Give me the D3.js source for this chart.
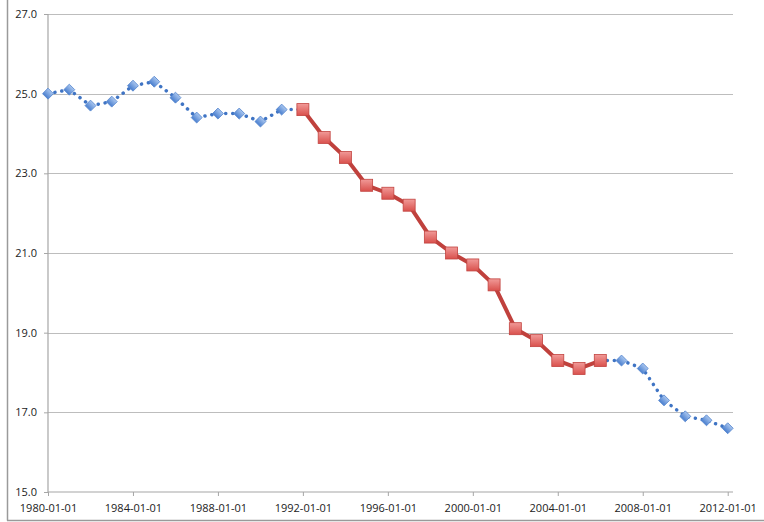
<!DOCTYPE html>
<html>
<head>
<meta charset="utf-8">
<script src="https://cdn.jsdelivr.net/npm/d3@7"></script>
<style>
  body { margin: 0; background: #fff; }
  text { font-family: "Open Sans", "Liberation Sans", sans-serif; font-size: 11px; fill: #222; }
</style>
</head>
<body>
<div id="chart"></div>
<script>
// chart values
let years = d3.range(1980, 2013);
let values = [25.0, 25.1, 24.7, 24.8, 25.2, 25.3, 24.9, 24.4, 24.5, 24.5, 24.3, 24.6, 24.6,
              23.9, 23.4, 22.7, 22.5, 22.2, 21.4, 21.0, 20.7, 20.2, 19.1, 18.8, 18.3, 18.1, 18.3,
              18.3, 18.1, 17.3, 16.9, 16.8, 16.6];
let redStart = 1992, redEnd = 2006;
let yTicks = [15, 17, 19, 21, 23, 25, 27];
let xTickYears = [1980, 1984, 1988, 1992, 1996, 2000, 2004, 2008, 2012];

let svgWidth = 764;
let svgHeight = 522;
let margin = { top: 14, right: 31, bottom: 30, left: 48 };
let width = svgWidth - margin.left - margin.right;
let height = svgHeight - margin.top - margin.bottom;

let data = years.map((y, i) => ({ year: y, date: new Date(y, 0, 1), value: values[i] }));
let blueA = data.filter(d => d.year <= redStart);
let blueB = data.filter(d => d.year >= redEnd);
let red = data.filter(d => d.year >= redStart && d.year <= redEnd);

var svg = d3.select("#chart")
    .append("svg")
    .attr("width", svgWidth)
    .attr("height", svgHeight);

// gradients for markers
var defs = svg.append("defs");
var gb = defs.append("linearGradient").attr("id", "gBlue").attr("x1", 0).attr("y1", 0).attr("x2", 0).attr("y2", 1);
gb.append("stop").attr("offset", "0%").attr("stop-color", "#a9c6ef");
gb.append("stop").attr("offset", "100%").attr("stop-color", "#4a7fcf");
var gr = defs.append("linearGradient").attr("id", "gRed").attr("x1", 0).attr("y1", 0).attr("x2", 0).attr("y2", 1);
gr.append("stop").attr("offset", "0%").attr("stop-color", "#f19a98");
gr.append("stop").attr("offset", "100%").attr("stop-color", "#d9504c");

// outer frame (partly cropped)
svg.append("line").attr("x1", 7.5).attr("x2", 7.5).attr("y1", 0).attr("y2", 520.5)
    .attr("stroke", "#9a9a9a").attr("stroke-width", 1.5);
svg.append("line").attr("x1", 7).attr("x2", svgWidth).attr("y1", 520.5).attr("y2", 520.5)
    .attr("stroke", "#9a9a9a").attr("stroke-width", 1.5);

var chartGroup = svg.append("g")
    .attr("transform", `translate(${margin.left}, ${margin.top})`);

var xScale = d3.scaleTime()
    .domain([new Date(1980, 0, 1), new Date(2012, 3, 1)])
    .range([0, width]);
var yScale = d3.scaleLinear()
    .domain([15, 27])
    .range([height, 0]);

// gridlines
chartGroup.append("g")
    .selectAll("line")
    .data(yTicks.filter(t => t > 15))
    .enter()
    .append("line")
    .attr("x1", 0)
    .attr("x2", width)
    .attr("y1", d => Math.round(yScale(d)) + 0.5)
    .attr("y2", d => Math.round(yScale(d)) + 0.5)
    .attr("stroke", "#bdbdbd")
    .attr("stroke-width", 1.2);

// axes
var leftAxis = d3.axisLeft(yScale)
    .tickValues(yTicks)
    .tickFormat(d3.format(".1f"))
    .tickSize(4)
    .tickPadding(7);
var bottomAxis = d3.axisBottom(xScale)
    .tickValues(xTickYears.map(y => new Date(y, 0, 1)))
    .tickFormat(d3.timeFormat("%Y-%m-%d"))
    .tickSize(4)
    .tickPadding(8);

var yAxisG = chartGroup.append("g").call(leftAxis);
var xAxisG = chartGroup.append("g")
    .attr("transform", `translate(0, ${height})`)
    .call(bottomAxis);
[yAxisG, xAxisG].forEach(g => {
    g.select(".domain").attr("stroke", "#a6a6a6").attr("stroke-width", 1.2);
    g.selectAll(".tick line").attr("stroke", "#a6a6a6");
    g.selectAll("text").attr("fill", "#222").attr("font-size", "11px");
});
yAxisG.select(".domain").attr("d", `M0,0V${height}`);
xAxisG.select(".domain").attr("d", `M0,0H${width}`);

var line = d3.line()
    .x(d => xScale(d.date))
    .y(d => yScale(d.value));

// blue dotted segments
[blueA, blueB].forEach(seg => {
    chartGroup.append("path")
        .datum(seg)
        .attr("d", line)
        .attr("fill", "none")
        .attr("stroke", "#3f74c4")
        .attr("stroke-width", 3.5)
        .attr("stroke-linecap", "round")
        .attr("stroke-dasharray", "0.1 6.9");
});

// blue diamonds
chartGroup.selectAll(".diamond")
    .data(blueA.concat(blueB))
    .enter()
    .append("path")
    .attr("class", "diamond")
    .attr("d", d3.symbol().type(d3.symbolSquare).size(60))
    .attr("transform", d => `translate(${xScale(d.date)}, ${yScale(d.value)}) rotate(45)`)
    .attr("fill", "url(#gBlue)")
    .attr("stroke", "#5687cf")
    .attr("stroke-width", 0.8);

// red solid segment
chartGroup.append("path")
    .datum(red)
    .attr("d", line)
    .attr("fill", "none")
    .attr("stroke", "#c0413d")
    .attr("stroke-width", 4)
    .attr("stroke-linejoin", "round");

chartGroup.selectAll(".square")
    .data(red)
    .enter()
    .append("rect")
    .attr("class", "square")
    .attr("x", d => xScale(d.date) - 6)
    .attr("y", d => yScale(d.value) - 6)
    .attr("width", 12)
    .attr("height", 12)
    .attr("fill", "url(#gRed)")
    .attr("stroke", "#c24440")
    .attr("stroke-width", 0.8);
</script>
</body>
</html>
